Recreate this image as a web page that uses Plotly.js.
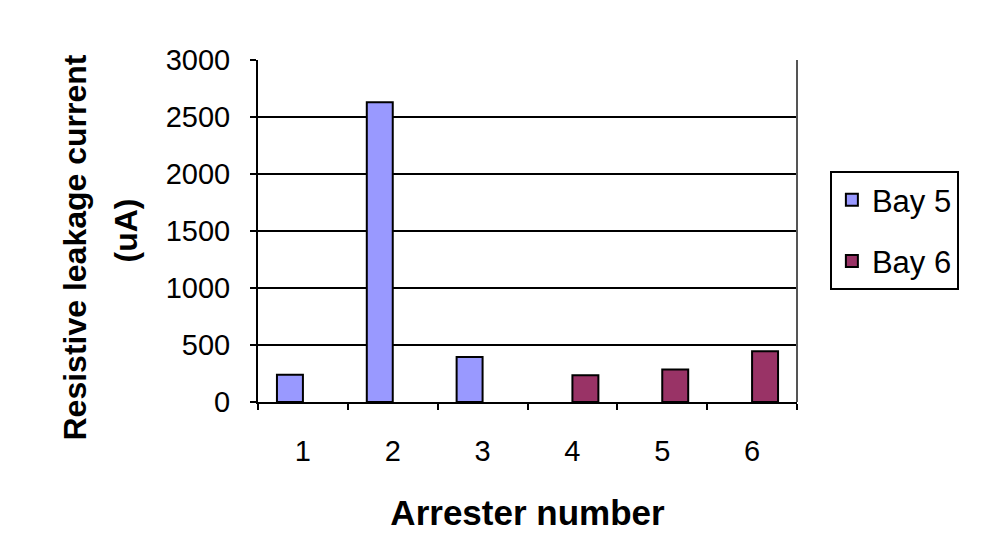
<!DOCTYPE html>
<html>
<head>
<meta charset="utf-8">
<script src="https://cdn.plot.ly/plotly-3.0.1.min.js"></script>
<style>html,body{margin:0;padding:0;background:#fff;}#chart{width:984px;height:542px;}</style>
</head>
<body>
<div id="chart"></div>
<script>
const categories = ["1", "2", "3", "4", "5", "6"];
const bay5 = [240, 2630, 395, null, null, null];
const bay6 = [null, null, null, 235, 285, 445];
const yTicks = [0, 500, 1000, 1500, 2000, 2500, 3000];
const yTitleLines = ["Resistive leakage current", "(uA)"];

const FONT = "Liberation Sans, Arial, sans-serif";

const traces = [
  {type: "bar", name: "Bay 5", x: categories, y: bay5, legendgroup: "a",
   marker: {color: "#9999FF", line: {color: "#000", width: 2}}},
  {type: "bar", name: "Bay 6", x: categories, y: bay6, legendgroup: "b",
   marker: {color: "#993366", line: {color: "#000", width: 2}}}
];

const layout = {
  width: 984, height: 542,
  margin: {l: 258, r: 187, t: 60, b: 140},
  paper_bgcolor: "#fff", plot_bgcolor: "#fff",
  font: {family: FONT, size: 29, color: "#000"},
  barmode: "group", bargap: 0.422, bargroupgap: 0,
  showlegend: true,
  legend: {x: 1.061, xanchor: "left", y: 0.675, yanchor: "top",
           bordercolor: "#000", borderwidth: 2, font: {size: 31, family: FONT},
           traceorder: "grouped", tracegroupgap: 18, bgcolor: "#fff"},
  xaxis: {type: "category", tickson: "boundaries", ticks: "outside", ticklen: 6,
          tickwidth: 2, tickcolor: "#000", showline: true, linecolor: "#000", linewidth: 2,
          showgrid: false, tickfont: {size: 29}, ticklabelstandoff: 22,
          title: {text: "Arrester number", font: {size: 35, weight: "bold", family: FONT}, standoff: 35}},
  yaxis: {range: [0, 3000], tickvals: yTicks, ticks: "outside", ticklen: 6, tickwidth: 2,
          tickcolor: "#000", showline: true, linecolor: "#000", linewidth: 2,
          showgrid: true, gridcolor: "#000", gridwidth: 2, zeroline: false,
          tickfont: {size: 29}, ticklabelstandoff: 14},
  annotations: [
    {text: yTitleLines[0], xref: "paper", yref: "paper", x: -0.3395, y: 0.4518,
     xanchor: "center", yanchor: "middle", textangle: -90, showarrow: false,
     font: {size: 32, weight: "bold", family: FONT}},
    {text: yTitleLines[1], xref: "paper", yref: "paper", x: -0.2449, y: 0.5015,
     xanchor: "center", yanchor: "middle", textangle: -90, showarrow: false,
     font: {size: 32, weight: "bold", family: FONT}}
  ],
  shapes: [
    {type: "line", xref: "paper", yref: "paper", x0: 1, x1: 1, y0: 0, y1: 1,
     line: {color: "#555", width: 2}}
  ]
};

Plotly.newPlot("chart", traces, layout, {staticPlot: true, displayModeBar: false});
</script>
</body>
</html>
